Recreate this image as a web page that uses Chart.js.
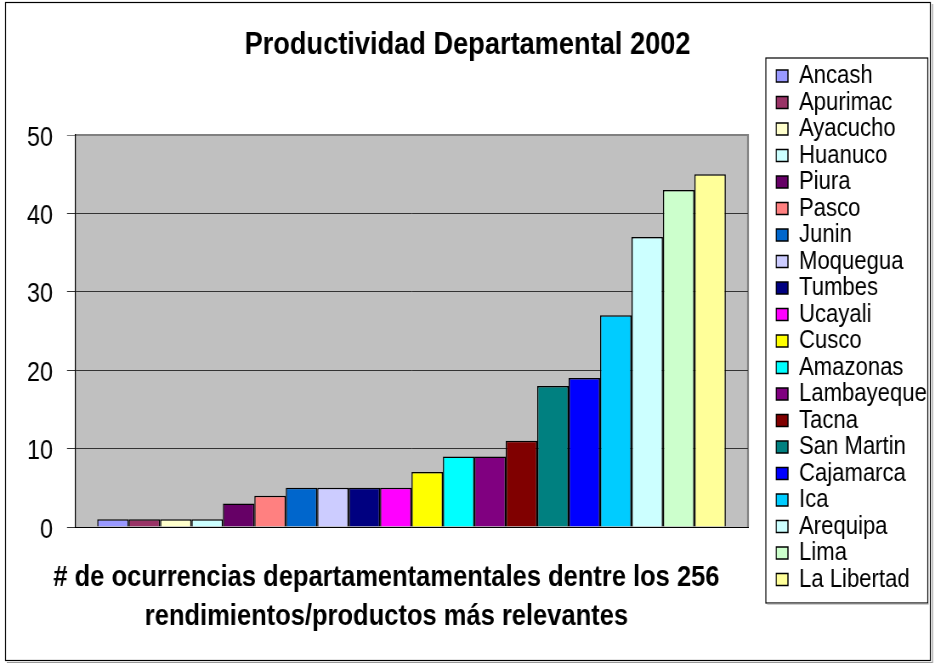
<!DOCTYPE html>
<html>
<head>
<meta charset="utf-8">
<title>Productividad Departamental 2002</title>
<script src="https://cdn.jsdelivr.net/npm/chart.js@4.4.1/dist/chart.umd.min.js"></script>
<style>
  html, body { margin: 0; padding: 0; background: #fff; overflow: hidden; }
  #marco { width: 935px; height: 666px; overflow: hidden; }
  /* el original usa Arial Narrow: se dibuja a 1100px y se estrecha a 935px */
  #wrap { width: 1100px; height: 666px; transform: scaleX(0.85); transform-origin: 0 0; }
</style>
</head>
<body>
<div id="marco"><div id="wrap"><canvas id="productividad"></canvas></div></div>
<script>
const departamentos = ['Ancash', 'Apurimac', 'Ayacucho', 'Huanuco', 'Piura', 'Pasco', 'Junin', 'Moquegua',
  'Tumbes', 'Ucayali', 'Cusco', 'Amazonas', 'Lambayeque', 'Tacna', 'San Martin', 'Cajamarca', 'Ica',
  'Arequipa', 'Lima', 'La Libertad'];
const ocurrencias = [1, 1, 1, 1, 3, 4, 5, 5, 5, 5, 7, 9, 9, 11, 18, 19, 27, 37, 43, 45];
const colores = ['#9999FF', '#993366', '#FFFFCC', '#CCFFFF', '#660066', '#FF8080', '#0066CC', '#CCCCFF',
  '#000080', '#FF00FF', '#FFFF00', '#00FFFF', '#800080', '#800000', '#008080', '#0000FF', '#00CCFF',
  '#CCFFFF', '#CCFFCC', '#FFFF99'];
const yTicks = [0, 10, 20, 30, 40, 50];
const tituloX = ['# de ocurrencias departamentamentales dentre los 256', 'rendimientos/productos más relevantes'];

const FUENTE = "'Liberation Sans', Arial, sans-serif";
Chart.defaults.font.family = FUENTE;
Chart.defaults.color = '#000';

// marco exterior, fondo gris del area de trazado, recuadro de la leyenda y titulo del eje x
const marco = {
  id: 'marco',
  beforeDraw(chart) {
    const { ctx, chartArea: a } = chart;
    ctx.save();
    ctx.fillStyle = '#fff';
    ctx.fillRect(0, 0, chart.width, chart.height);
    ctx.strokeStyle = '#000';
    ctx.lineWidth = 1.2;
    ctx.strokeRect(6.5, 2.5, 1088, 658);
    ctx.strokeStyle = '#999';
    ctx.beginPath();
    ctx.moveTo(8, 662.5); ctx.lineTo(1097, 662.5); ctx.lineTo(1097, 4);
    ctx.stroke();
    ctx.fillStyle = '#C0C0C0';
    ctx.fillRect(a.left, a.top, a.right - a.left, a.bottom - a.top);
    ctx.strokeStyle = '#808080';
    ctx.lineWidth = 2.2;
    ctx.beginPath();
    ctx.moveTo(a.left, a.top); ctx.lineTo(a.right, a.top); ctx.lineTo(a.right, a.bottom);
    ctx.stroke();
    ctx.restore();
  },
  afterLayout(chart) {
    const lg = chart.legend;
    lg.left = 912.5; lg.width = 185; lg.right = lg.left + lg.width;
    lg.top = 62.5; lg.bottom = chart.height;
  },
  afterDraw(chart) {
    const { ctx, legend: lg, chartArea: a } = chart;
    ctx.save();
    ctx.strokeStyle = '#000';
    ctx.lineWidth = 1.2;
    ctx.strokeRect(lg.left - 11.5, lg.top - 4.5, 190.5, 545);
    ctx.strokeStyle = '#999';
    ctx.beginPath();
    ctx.moveTo(lg.left - 10, lg.top + 541.5); ctx.lineTo(lg.left + 180, lg.top + 541.5);
    ctx.stroke();
    // titulo del eje x, algo desplazado a la izquierda como en el original
    ctx.fillStyle = '#000';
    ctx.font = 'bold 30px ' + FUENTE;
    ctx.textAlign = 'center';
    ctx.textBaseline = 'middle';
    const cx = (a.left + a.right) / 2 - 29.5;
    tituloX.forEach((t, i) => ctx.fillText(t, cx, a.bottom + 51 + i * 38.5));
    ctx.restore();
  }
};

const ctx = document.getElementById('productividad').getContext('2d');
const grafico = new Chart(ctx, {
  type: 'bar',
  data: {
    labels: [''],
    datasets: departamentos.map((d, i) => ({
      label: d,
      data: [ocurrencias[i]],
      backgroundColor: colores[i],
      borderColor: '#000',
      borderWidth: 1.5
    }))
  },
  options: {
    responsive: true,
    maintainAspectRatio: false,
    animation: false,
    layout: { padding: 0 },
    datasets: { bar: { categoryPercentage: 0.934, barPercentage: 1 } },
    plugins: {
      title: {
        display: true,
        text: 'Productividad Departamental 2002',
        color: '#000',
        font: { size: 32, weight: 'bold' },
        padding: { top: 25.8, bottom: 70.8 }
      },
      legend: {
        position: 'right',
        align: 'start',
        maxWidth: 170,
        labels: {
          color: '#000',
          boxWidth: 14,
          boxHeight: 12,
          padding: 0.5,
          font: { size: 26 }
        }
      },
      tooltip: { enabled: false }
    },
    scales: {
      x: {
        grid: { display: false, drawTicks: false },
        border: { display: true, color: '#000', width: 1 },
        ticks: { display: false },
        afterFit: s => { s.height = 139; }
      },
      y: {
        min: yTicks[0],
        max: yTicks[yTicks.length - 1],
        afterBuildTicks: s => { s.ticks = yTicks.map(v => ({ value: v })); },
        afterFit: s => { s.width = 88.2; },
        ticks: { padding: 16.4, labelOffset: 3, color: '#000', font: { size: 27.5 } },
        grid: {
          tickLength: 9.4,
          lineWidth: 1,
          color: c => (c.tick && c.tick.value === 50 ? '#808080' : '#333')
        },
        border: { display: true, color: '#000', width: 1.2 }
      },
      // eje vacio a la derecha: separa el area de trazado de la leyenda
      hueco: {
        type: 'linear',
        position: 'right',
        grid: { display: false, drawTicks: false },
        border: { display: false },
        ticks: { display: false },
        afterFit: s => { s.width = 50; }
      }
    }
  },
  plugins: [marco]
});
</script>
</body>
</html>
